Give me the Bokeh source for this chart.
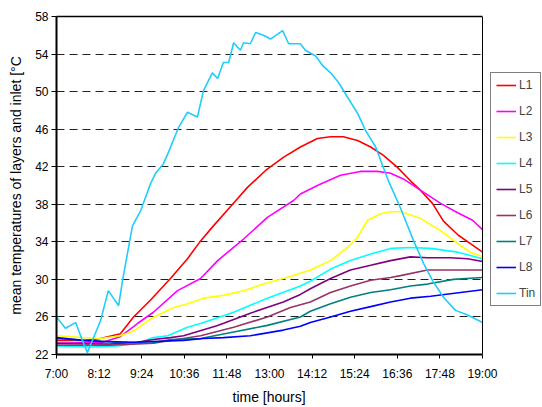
from bokeh.plotting import figure
from bokeh.models import (Legend, LegendItem, Range1d, LinearAxis, FixedTicker, BoxAnnotation, Span, Title)
from bokeh.embed import file_html
from bokeh.resources import INLINE

# ---- axis ticks ----
time_labels = ["7:00", "8:12", "9:24", "10:36", "11:48", "13:00", "14:12", "15:24", "16:36", "17:48", "19:00"]
temp_ticks = [22, 26, 30, 34, 38, 42, 46, 50, 54, 58]

# ---- series (time in decimal hours, temperature in degC) ----
l1_t = [7.00, 7.80, 8.24, 8.80, 9.17, 9.65, 10.21, 10.69, 11.06, 11.42, 11.96, 12.38, 12.89, 13.39, 13.87, 14.35,
        14.72, 15.08, 15.48, 15.85, 16.21, 16.61, 16.97, 17.25, 17.59, 17.90, 18.32, 18.66, 19.00]
l1_v = [23.5, 23.5, 23.7, 24.2, 26.0, 27.8, 30.1, 32.2, 34.1, 35.7, 38.0, 39.8, 41.6, 43.0, 44.1, 45.0,
        45.2, 45.2, 44.8, 44.1, 43.2, 41.9, 40.5, 39.5, 38.1, 36.2, 34.7, 33.8, 32.9]

l2_t = [7.00, 8.30, 8.80, 9.28, 9.73, 10.41, 11.06, 11.54, 12.27, 12.94, 13.68, 13.87, 14.35, 14.52, 15.00, 15.56,
        16.04, 16.41, 16.77, 17.25, 17.82, 18.30, 18.72, 19.00]
l2_v = [23.2, 23.3, 23.9, 25.3, 26.5, 28.8, 30.1, 32.0, 34.3, 36.6, 38.4, 39.1, 40.0, 40.3, 41.1, 41.5,
        41.5, 41.3, 40.7, 39.5, 38.1, 37.1, 36.3, 35.3]

l3_t = [7.00, 7.76, 8.24, 8.80, 9.17, 9.65, 10.30, 10.69, 11.14, 11.70, 12.27, 12.83, 13.39, 13.82, 14.15, 14.72,
        15.20, 15.48, 15.76, 16.13, 16.41, 16.69, 17.25, 17.82, 18.30, 18.66, 19.00]
l3_v = [24.0, 23.8, 23.7, 24.0, 24.5, 25.8, 27.0, 27.4, 28.0, 28.3, 28.8, 29.5, 30.1, 30.6, 31.0, 32.0,
        33.4, 34.5, 36.3, 37.0, 37.2, 37.2, 36.5, 35.2, 33.8, 32.9, 32.4]

l4_t = [7.00, 8.00, 8.72, 9.28, 9.73, 10.13, 10.69, 11.06, 11.99, 12.94, 13.87, 14.15, 14.72, 15.28, 15.85, 16.41,
        16.97, 17.54, 18.30, 19.00]
l4_v = [22.9, 22.8, 22.9, 23.2, 23.8, 24.0, 24.9, 25.3, 26.5, 28.0, 29.3, 29.8, 31.1, 32.0, 32.7, 33.3,
        33.4, 33.3, 32.9, 32.2]

l5_t = [7.00, 8.50, 9.28, 9.73, 10.21, 10.58, 11.54, 12.46, 13.39, 13.87, 14.15, 14.72, 15.28, 15.85, 16.41, 16.97,
        17.45, 18.10, 18.58, 19.00]
l5_v = [23.2, 23.1, 23.3, 23.6, 23.8, 24.0, 25.1, 26.4, 27.6, 28.4, 29.0, 30.1, 31.0, 31.5, 32.0, 32.4,
        32.3, 32.3, 32.2, 31.9]

l6_t = [7.00, 8.50, 9.73, 10.21, 11.06, 11.99, 12.94, 13.59, 14.15, 14.72, 15.28, 15.85, 16.41, 16.69, 17.45, 18.10, 19.00]
l6_v = [23.0, 23.0, 23.2, 23.5, 24.0, 24.9, 26.0, 27.0, 27.6, 28.6, 29.3, 29.9, 30.2, 30.4, 31.0, 31.0, 31.0]

l7_t = [7.00, 7.76, 8.72, 9.65, 10.21, 11.06, 11.99, 12.94, 13.87, 14.15, 14.72, 15.28, 15.85, 16.41, 16.97, 17.45,
        18.18, 19.00]
l7_v = [23.7, 23.5, 23.3, 23.2, 23.6, 23.7, 24.4, 25.1, 26.0, 26.6, 27.4, 28.1, 28.6, 28.9, 29.3, 29.5,
        30.0, 30.2]

l8_t = [7.00, 7.76, 8.24, 9.17, 10.58, 11.14, 11.70, 12.46, 13.39, 13.87, 14.15, 14.72, 15.28, 15.85, 16.41, 16.97,
        17.54, 18.38, 19.00]
l8_v = [23.8, 23.5, 23.4, 23.3, 23.5, 23.7, 23.8, 24.0, 24.6, 25.0, 25.4, 26.0, 26.6, 27.1, 27.6, 28.0,
        28.2, 28.6, 28.9]

tin_t = [7.00, 7.25, 7.54, 7.73, 7.87, 8.24, 8.46, 8.75, 8.86, 9.03, 9.14, 9.37, 9.65, 9.79, 10.01, 10.15,
         10.44, 10.69, 10.97, 11.14, 11.39, 11.54, 11.70, 11.85, 11.99, 12.18, 12.27, 12.46, 12.61, 12.83, 13.03,
         13.37, 13.54, 13.87, 14.01, 14.30, 14.49, 14.72, 14.94, 15.20, 15.48, 15.70, 15.99, 16.21, 16.35, 16.69,
         17.06, 17.34, 17.59, 17.90, 18.24, 18.58, 19.00]
tin_v = [26.0, 24.8, 25.4, 23.5, 22.2, 25.6, 28.8, 27.2, 29.9, 33.4, 35.7, 37.3, 40.2, 41.3, 42.3, 43.5,
         46.2, 47.8, 47.3, 50.1, 52.0, 51.4, 53.1, 53.1, 55.2, 54.4, 55.2, 55.1, 56.3, 56.0, 55.6,
         56.5, 55.1, 55.1, 54.4, 53.8, 52.8, 52.0, 51.0, 49.4, 47.7, 45.9, 44.1, 41.9, 40.5, 37.6,
         34.1, 31.7, 29.9, 28.1, 26.7, 26.2, 25.4]

series = [
    ("L1", l1_t, l1_v, "#FF0000"),
    ("L2", l2_t, l2_v, "#FF00FF"),
    ("L3", l3_t, l3_v, "#FFFF00"),
    ("L4", l4_t, l4_v, "#00FFFF"),
    ("L5", l5_t, l5_v, "#800080"),
    ("L6", l6_t, l6_v, "#993366"),
    ("L7", l7_t, l7_v, "#008080"),
    ("L8", l8_t, l8_v, "#0000FF"),
    ("Tin", tin_t, tin_v, "#22CCFF"),
]

FONT = "Liberation Sans"

def to_minutes(hours):
    return [h * 60.0 for h in hours]

tick_pos = [int(s.split(":")[0]) * 60 + int(s.split(":")[1]) for s in time_labels]
t0, t1 = tick_pos[0], tick_pos[-1]

# layout: plot box 426 px wide, plus 60 px on its right for the legend
W, H = 542, 407
LEFT, TOP, BOTTOM = 56, 16, 53
BOX_W, EXTRA_W = 426, 60
x_end = t1 + (t1 - t0) * EXTRA_W / BOX_W

p = figure(width=W, height=H, output_backend="svg", toolbar_location=None,
           x_range=Range1d(t0, x_end), y_range=Range1d(temp_ticks[0], temp_ticks[-1]),
           min_border_left=LEFT, min_border_right=0, min_border_top=TOP, min_border_bottom=BOTTOM)
p.background_fill_color = "white"
p.border_fill_color = "white"
p.outline_line_color = None

items = []
for name, t, v, c in series:
    r = p.line(to_minutes(t), v, line_color=c, line_width=1.6)
    items.append(LegendItem(label=name, renderers=[r]))

# axes
p.xaxis.ticker = tick_pos
p.xaxis.bounds = (t0, t1)
p.xaxis.major_label_overrides = {k: lab for k, lab in zip(tick_pos, time_labels)}
p.yaxis.ticker = temp_ticks
for ax in (p.xaxis, p.yaxis):
    ax.axis_line_color = "black"
    ax.axis_line_width = 2
    ax.major_tick_line_color = "black"
    ax.major_tick_in = 0
    ax.minor_tick_line_color = None
    ax.major_label_text_font = FONT
    ax.major_label_text_font_size = "12px"
    ax.major_label_text_color = "black"
    ax.axis_label_text_font = FONT
    ax.axis_label_text_font_size = "14px"
    ax.axis_label_text_font_style = "normal"
    ax.axis_label_text_color = "black"
p.xaxis.major_tick_out = 4
p.yaxis.major_tick_out = 5
p.xaxis.major_label_standoff = 8
p.yaxis.major_label_standoff = 3
p.yaxis.axis_label = "mean temperatures of layers and inlet [°C"
p.yaxis.axis_label_standoff = 8

# top border of the plot box (axis line only)
top = LinearAxis(ticker=FixedTicker(ticks=[]), bounds=(t0, t1), axis_line_color="black",
                 axis_line_width=1.5, major_tick_line_color=None, minor_tick_line_color=None,
                 major_label_standoff=0)
p.add_layout(top, "above")

# x axis title, centred under the plot box
xtitle = Title(text="time [hours]", align="left", offset=(BOX_W - 74) / 2,
               text_font=FONT, text_font_size="14px", text_font_style="normal",
               text_color="black", standoff=6)
p.add_layout(xtitle, "below")

p.xgrid.grid_line_color = None
p.ygrid.grid_line_color = "#222222"
p.ygrid.grid_line_dash = "8 5"
p.ygrid.grid_line_width = 1.2

# blank strip to the right of the plot box, then its right border
p.add_layout(BoxAnnotation(left=t1, fill_color="white", fill_alpha=1, line_color=None))
p.add_layout(Span(location=t1, dimension="height", line_color="black", line_width=1))

legend = Legend(items=items, location=(BOX_W + 8, 48))
legend.border_line_color = "black"
legend.border_line_width = 1
legend.background_fill_color = "white"
legend.background_fill_alpha = 1
legend.label_text_font = FONT
legend.label_text_font_size = "12px"
legend.glyph_width = 20
legend.glyph_height = 14
legend.label_height = 14
legend.label_width = 16
legend.spacing = 12
legend.padding = 5
legend.margin = 0
legend.label_standoff = 3
p.add_layout(legend)

open("out.html", "w").write(file_html(p, INLINE))
